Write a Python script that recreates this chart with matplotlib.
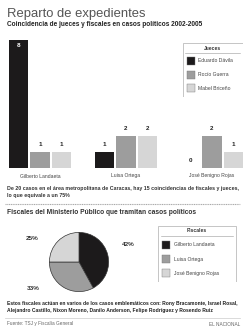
import numpy as np
import matplotlib
matplotlib.use("Agg")
import matplotlib.pyplot as plt
from matplotlib.patches import Rectangle

plt.rcParams['font.family'] = ['Liberation Sans Narrow', 'Liberation Sans', 'DejaVu Sans']

# datos
fiscales = ["Gilberto Landaeta", "Luisa Ortega", "José Benigno Rojas"]
jueces = ["Eduardo Dávila", "Rocío Guerra", "Mabel Briceño"]
coincidencias = np.array([[8, 1, 1],   # Landaeta
                          [1, 2, 2],   # Ortega
                          [0, 2, 1]])  # Rojas
porcentajes = [42, 33, 25]

titulo = "Reparto de expedientes"
subtitulo = "Coincidencia de jueces y fiscales en casos políticos 2002-2005"
nota = ("De 20 casos en el área metropolitana de Caracas, hay 15 coincidencias de fiscales y jueces,\n"
        "lo que equivale a un 75%")
titulo_torta = "Fiscales del Ministerio Público que tramitan casos políticos"
pie_texto = ("Estos fiscales actúan en varios de los casos emblemáticos con: Rony Bracamonte, Israel Rosal,\n"
             "Alejandro Castillo, Nixon Moreno, Danilo Anderson, Felipe Rodríguez y Rosendo Ruiz")
fuente = "Fuente: TSJ y Fiscalía General"
medio = "EL NACIONAL"

colores = ["#1c1a1b", "#9d9d9d", "#d6d6d6"]

W, H = 244, 334


def rect(x0, y0, x1, y1):
    # caja en pixeles (origen arriba a la izquierda) -> coords de figura
    return [x0 / W, 1 - y1 / H, (x1 - x0) / W, (y1 - y0) / H]


fig = plt.figure(figsize=(W / 100, H / 100), dpi=100)
fig.patch.set_facecolor("white")

fig.text(7 / W, 1 - 14 / H, titulo, fontsize=9.4, color="#555555", va="center")
fig.text(7 / W, 1 - 25 / H, subtitulo, fontsize=4.7, weight="bold", color="#222222", va="center")

# ---- barras ----
ax = fig.add_axes(rect(0, 40, 244, 168))
grupos = np.arange(len(fiscales)) * 4
for j in range(3):
    xs = grupos + (j - 1)
    vals = coincidencias[:, j]
    ax.bar(xs, vals, width=0.9, color=colores[j], edgecolor="none")
    for x, v in zip(xs, vals):
        if v >= 8:
            ax.text(x, v - 0.35, str(v), ha="center", va="center", fontsize=4.5,
                    color="white", weight="bold")
        else:
            ax.text(x, v + 0.45, str(v), ha="center", va="center", fontsize=4.5,
                    color="#222222", weight="bold")
ax.set_xlim(-1.86, 9.49)
ax.set_ylim(0, 8)
ax.axis("off")

for g, nombre in zip(grupos, fiscales):
    ax.text(g, -0.5, nombre, ha="center", va="center", fontsize=3.6, color="#444444")

# leyenda jueces
lg = fig.add_axes(rect(182, 42, 243, 97))
lg.set_xlim(0, 61)
lg.set_ylim(55, 0)
lg.axis("off")
lg.add_patch(Rectangle((0.5, 0.5), 60, 54, fill=False, edgecolor="#bbbbbb", linewidth=0.6))
lg.text(30.5, 6, "Jueces", ha="center", va="center", fontsize=3.6, weight="bold", color="#333333")
lg.plot([3, 58], [11, 11], color="#999999", linewidth=0.4)
for k, (nombre, c) in enumerate(zip(jueces, colores)):
    yy = 19 + k * 13.5
    lg.add_patch(Rectangle((5, yy - 4), 8, 8, facecolor=c, edgecolor="#777777", linewidth=0.3))
    lg.text(16, yy, nombre, va="center", fontsize=3.6, color="#444444")

fig.text(7 / W, 1 - 192 / H, nota, fontsize=3.75, weight="bold", color="#333333",
         va="center", linespacing=1.3)
fig.add_artist(plt.Line2D([5 / W, 240 / W], [1 - 204 / H, 1 - 204 / H], color="#aaaaaa",
                          linewidth=0.8, linestyle=(0, (1, 0.6))))

fig.text(7 / W, 1 - 213 / H, titulo_torta, fontsize=4.8, weight="bold", color="#333333", va="center")

# ---- torta ----
axp = fig.add_axes(rect(42, 225, 116, 299))
axp.pie(porcentajes, colors=colores, startangle=90, counterclock=False,
        wedgeprops=dict(edgecolor="#333333", linewidth=0.5))
axp.set_aspect("equal")

pos_etq = [(128, 244), (33, 289), (32, 238)]
for p, (px, py) in zip(porcentajes, pos_etq):
    fig.text(px / W, 1 - py / H, f"{p}%", ha="center", va="center", fontsize=4.6,
             weight="bold", color="#333333")

# leyenda fiscales
lf = fig.add_axes(rect(157, 225, 237, 282))
lf.set_xlim(0, 80)
lf.set_ylim(57, 0)
lf.axis("off")
lf.add_patch(Rectangle((0.5, 0.5), 79, 56, fill=False, edgecolor="#bbbbbb", linewidth=0.6))
lf.text(40, 6, "Fiscales", ha="center", va="center", fontsize=3.6, weight="bold", color="#333333")
lf.plot([4, 76], [11, 11], color="#999999", linewidth=0.4)
for k, (nombre, c) in enumerate(zip(fiscales, colores)):
    yy = 20 + k * 14
    lf.add_patch(Rectangle((5, yy - 4), 8, 8, facecolor=c, edgecolor="#777777", linewidth=0.3))
    lf.text(17, yy, nombre, va="center", fontsize=3.6, color="#444444")

fig.text(7 / W, 1 - 307 / H, pie_texto, fontsize=3.65, weight="bold", color="#222222",
         va="center", linespacing=1.3)
fig.add_artist(plt.Line2D([5 / W, 240 / W], [1 - 318 / H, 1 - 318 / H], color="#cccccc",
                          linewidth=0.5))
fig.text(7 / W, 1 - 324 / H, fuente, fontsize=3.4, color="#666666", va="center")
fig.text(240 / W, 1 - 324 / H, medio, fontsize=3.4, color="#666666", va="center", ha="right")

fig.savefig("out.png", dpi=100)
